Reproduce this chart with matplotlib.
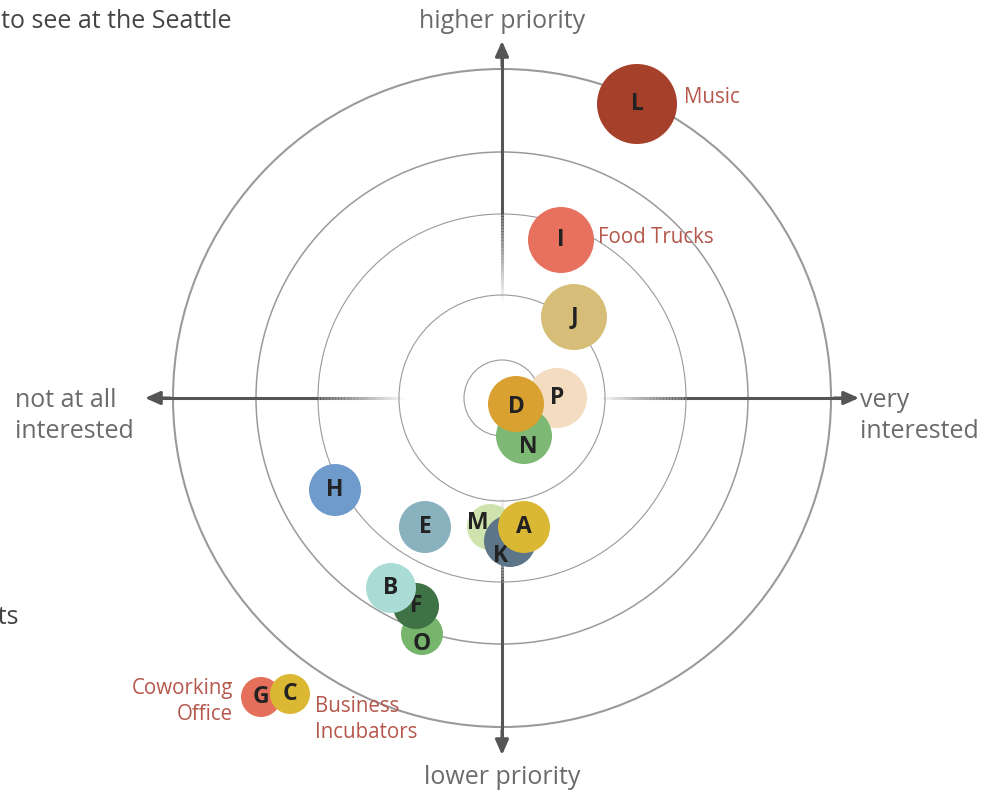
import numpy as np
import matplotlib
matplotlib.use("Agg")
import matplotlib.pyplot as plt
from matplotlib.patches import Circle
from matplotlib.collections import LineCollection

plt.rcParams['font.family'] = ['Open Sans', 'DejaVu Sans']

# ---- data ----
letters = ['A', 'B', 'C', 'D', 'E', 'F', 'G', 'H', 'I', 'J', 'K', 'L', 'M', 'N', 'O', 'P']
interest = [0.22, -1.11, -2.12, 0.14, -0.77, -0.86, -2.41, -1.67, 0.59, 0.72, 0.08, 1.35, -0.12, 0.22, -0.80, 0.55]
priority = [-1.29, -1.90, -2.96, -0.06, -1.29, -2.08, -2.99, -0.92, 1.58, 0.81, -1.43, 2.94, -1.29, -0.38, -2.36, 0.00]
bubble_r = [0.26, 0.25, 0.20, 0.28, 0.26, 0.23, 0.20, 0.26, 0.33, 0.33, 0.26, 0.40, 0.23, 0.28, 0.21, 0.30]
colors = ['#dbb834', '#a8dcd4', '#dbb834', '#d9a130', '#89b1be', '#3f7346', '#e46f5b', '#6f9bcc',
          '#e8705e', '#d7be78', '#5c7589', '#a5402a', '#cfe3ae', '#7db874', '#77b56d', '#f3dcbf']
# letter label nudges (points) for partially hidden bubbles
label_nudge = {'M': (-9, 3), 'K': (-7, -11), 'N': (3, -8), 'O': (0, -7), 'D': (0, -2)}

ring_radii = [0.38, 1.03, 1.84, 2.46, 3.29]
ring_lw = [0.8, 0.8, 0.8, 1.1, 1.5]

callouts = {'L': ('Music', (34, 5), 'left'),
            'I': ('Food Trucks', (27, 2), 'left'),
            'G': ('Coworking\nOffice', (-20, -3.5), 'right'),
            'C': ('Business\nIncubators', (18, -18.5), 'left')}

axis_labels = {'top': 'higher priority', 'bottom': 'lower priority',
               'left': 'not at all\ninterested', 'right': 'very\ninterested'}

# ---- figure ----
fig = plt.figure(figsize=(10, 7.92), dpi=100)
ax = fig.add_axes([0, 0, 1, 1])
ax.set_xlim(-5.02, 4.98)
ax.set_ylim(-3.94, 3.98)
ax.set_aspect('equal')
ax.axis('off')

# rings
for r, lw in zip(ring_radii, ring_lw):
    ax.add_patch(Circle((0, 0), r, fill=False, ec='#9a9a9a', lw=lw, zorder=1))

# fading axis lines
arm = 3.57
fade_start, fade_end = 1.84, 0.97
line_col = np.array(matplotlib.colors.to_rgb('#555555'))
ts = np.linspace(fade_end, fade_start, 60)
for dx, dy in [(1, 0), (-1, 0), (0, 1), (0, -1)]:
    segs, cols = [], []
    for a, b in zip(ts[:-1], ts[1:]):
        segs.append([(dx * a, dy * a), (dx * b, dy * b)])
        m = (a + b) / 2
        al = np.clip((m - fade_end) / (fade_start - fade_end), 0, 1)
        cols.append((*line_col, al))
    ax.add_collection(LineCollection(segs, colors=cols, linewidths=2.2, zorder=2,
                                     capstyle='butt'))
    ax.plot([dx * fade_start, dx * (arm - 0.15)], [dy * fade_start, dy * (arm - 0.15)],
            color='#555555', lw=2.2, solid_capstyle='butt', zorder=2)
    ax.annotate('', xy=(dx * arm, dy * arm), xytext=(dx * (arm - 0.25), dy * (arm - 0.25)),
                arrowprops=dict(arrowstyle='-|>,head_length=0.9,head_width=0.4',
                                color='#555555', lw=2.2, shrinkA=0, shrinkB=0), zorder=3)

# bubbles (later letters drawn underneath)
order = sorted(range(len(letters)), key=lambda i: letters[i], reverse=True)
for z, i in enumerate(order):
    ax.add_patch(Circle((interest[i], priority[i]), bubble_r[i], fc=colors[i], ec='none',
                        zorder=10 + 2 * z))
    nx, ny = label_nudge.get(letters[i], (0, 0))
    ax.annotate(letters[i], (interest[i], priority[i]), xytext=(nx, ny),
                textcoords='offset points', ha='center', va='center',
                fontsize=16.5, fontweight='bold', color='#222222', zorder=11 + 2 * z)

# callouts
for key, (txt, off, ha) in callouts.items():
    i = letters.index(key)
    ax.annotate(txt, (interest[i], priority[i]), xytext=off, textcoords='offset points',
                ha=ha, va='center', fontsize=14.8, color='#b5574b', zorder=50,
                linespacing=1.3)

# axis labels
gray = '#6b6b6b'
ax.text(0, 3.76, axis_labels['top'], ha='center', va='center', fontsize=18, color=gray)
ax.text(0, -3.80, axis_labels['bottom'], ha='center', va='center', fontsize=18, color=gray)
ax.text(-4.87, -0.18, axis_labels['left'], ha='left', va='center', fontsize=18, color=gray,
        linespacing=1.3)
ax.text(3.58, -0.18, axis_labels['right'], ha='left', va='center', fontsize=18, color=gray,
        linespacing=1.3)

# cut-off surrounding page text
ax.text(-2.71, 3.76, 'Which events would you like to see at the Seattle', ha='right',
        va='center', fontsize=18, color='#444444')
ax.text(-4.83, -2.19, 'events', ha='right', va='center', fontsize=18, color='#444444')

fig.savefig('out.png', dpi=100)
